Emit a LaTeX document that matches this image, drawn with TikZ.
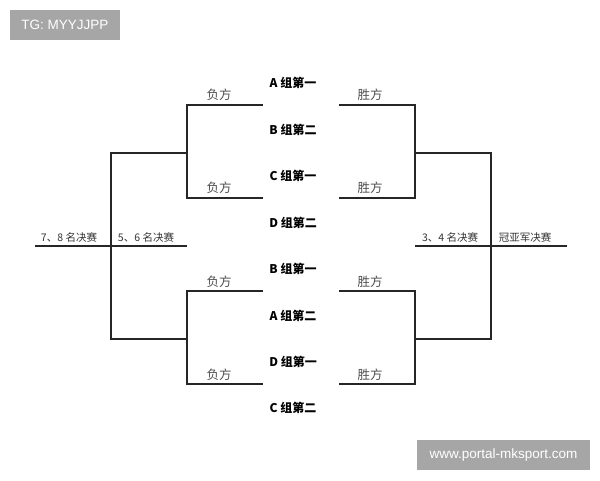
\documentclass[tikz,border=0pt]{standalone}
\usepackage{fontspec}
\setmainfont{Liberation Sans}
\newfontfamily\cjk{Noto Sans CJK SC}
\begin{document}
\begin{tikzpicture}[x=1pt,y=-1pt,
  wire/.style={draw=black!85, line width=1.2pt},
  team/.style={font=\cjk\bfseries\fontsize{12}{13}\selectfont, text=black, inner sep=0},
  res/.style={font=\cjk\fontsize{12.5}{13}\selectfont, text=black!70, inner sep=0},
  final/.style={font=\cjk\fontsize{10.5}{12}\selectfont, text=black!80, inner sep=0},
  badge/.style={fill=black!35, text=white, inner sep=0, minimum height=30pt, font=\fontsize{13.5}{15}\selectfont}]
\useasboundingbox (0,0) rectangle (600,480);

% badges
\node[badge, minimum width=110pt] (tg) at (65,25) {TG: MYYJJPP};
\node[badge, minimum width=173pt] (web) at (503.5,455) {www.portal-mksport.com};

% left brackets
\coordinate (la1) at (263,105); \coordinate (lb1) at (187,105);
\coordinate (lc1) at (187,198); \coordinate (ld1) at (263,198);
\coordinate (lm1) at (187,153);
\coordinate (la2) at (263,291); \coordinate (lb2) at (187,291);
\coordinate (lc2) at (187,384); \coordinate (ld2) at (263,384);
\coordinate (lm2) at (187,339);
\coordinate (lo1) at (111,153); \coordinate (lo2) at (111,339);
\coordinate (lfl) at (35,246); \coordinate (lfr) at (187,246);

% right brackets
\coordinate (ra1) at (339,105); \coordinate (rb1) at (415,105);
\coordinate (rc1) at (415,198); \coordinate (rd1) at (339,198);
\coordinate (rm1) at (415,153);
\coordinate (ra2) at (339,291); \coordinate (rb2) at (415,291);
\coordinate (rc2) at (415,384); \coordinate (rd2) at (339,384);
\coordinate (rm2) at (415,339);
\coordinate (ro1) at (491,153); \coordinate (ro2) at (491,339);
\coordinate (rfl) at (415,246); \coordinate (rfr) at (567,246);

\draw[wire] (la1) -- (lb1) -- (lc1) -- (ld1);
\draw[wire] (la2) -- (lb2) -- (lc2) -- (ld2);
\draw[wire] (lm1) -- (lo1) -- (lo2) -- (lm2);
\draw[wire] (lfl) -- (lfr);
\draw[wire] (ra1) -- (rb1) -- (rc1) -- (rd1);
\draw[wire] (ra2) -- (rb2) -- (rc2) -- (rd2);
\draw[wire] (rm1) -- (ro1) -- (ro2) -- (rm2);
\draw[wire] (rfl) -- (rfr);

% teams
\node[team] (t1) at (293,83) {A 组第一};
\node[team] (t2) at (293,130) {B 组第二};
\node[team] (t3) at (293,176) {C 组第一};
\node[team] (t4) at (293,223) {D 组第二};
\node[team] (t5) at (293,269) {B 组第一};
\node[team] (t6) at (293,316) {A 组第二};
\node[team] (t7) at (293,362) {D 组第一};
\node[team] (t8) at (293,408) {C 组第二};

% results
\node[res] (f1) at (219,95) {负方};
\node[res] (f2) at (219,188) {负方};
\node[res] (f3) at (219,282) {负方};
\node[res] (f4) at (219,375) {负方};
\node[res] (w1) at (370,95) {胜方};
\node[res] (w2) at (370,188) {胜方};
\node[res] (w3) at (370,282) {胜方};
\node[res] (w4) at (370,375) {胜方};

% finals
\node[final] (p78) at (69,237) {7、8 名决赛};
\node[final] (p56) at (146,237) {5、6 名决赛};
\node[final] (p34) at (450,237) {3、4 名决赛};
\node[final] (p12) at (525,237) {冠亚军决赛};
\end{tikzpicture}
\end{document}
